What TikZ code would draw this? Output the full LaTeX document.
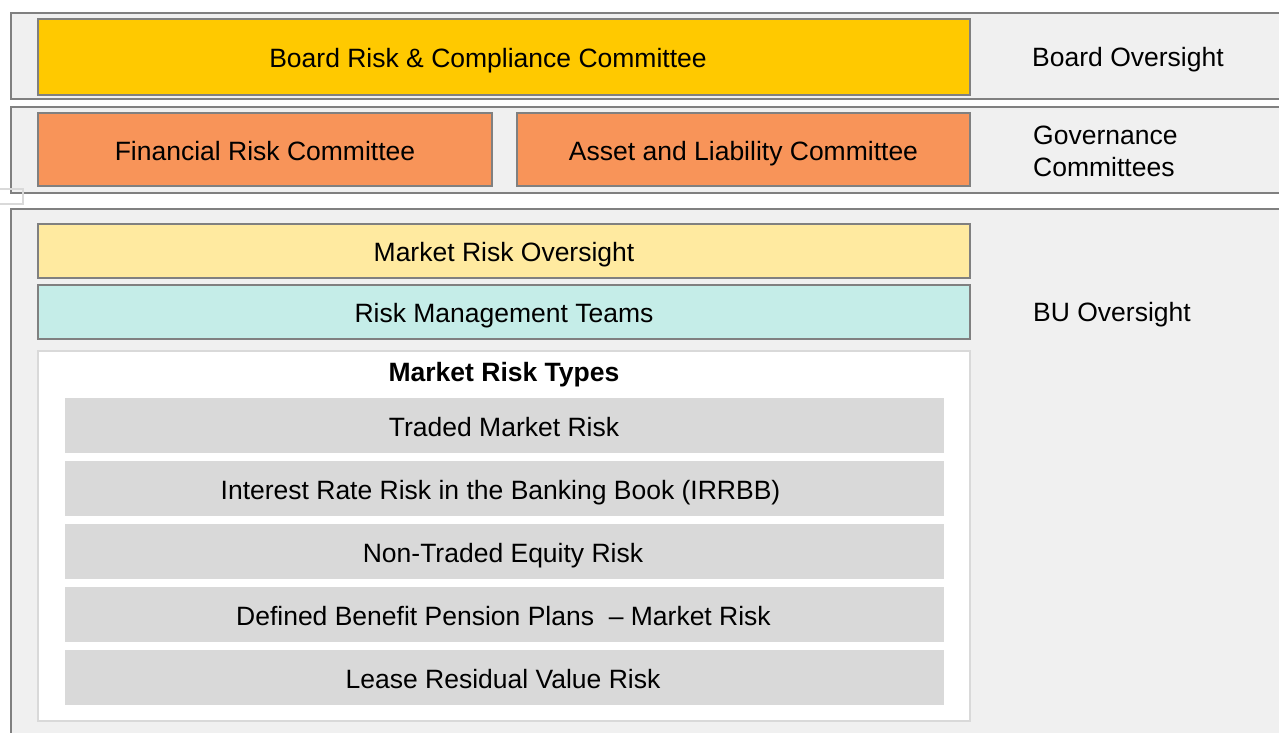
\documentclass[tikz,border=0pt]{standalone}
\usepackage{fontspec}
\setmainfont{Liberation Sans}
\definecolor{bandfill}{HTML}{F0F0F0}
\definecolor{bandline}{HTML}{808080}
\definecolor{boardfill}{HTML}{FFC900}
\definecolor{govfill}{HTML}{F89459}
\definecolor{mrofill}{HTML}{FFEAA0}
\definecolor{rmtfill}{HTML}{C5EDE8}
\definecolor{itemfill}{HTML}{D9D9D9}
\definecolor{lightline}{HTML}{D9D9D9}
\begin{document}
\begin{tikzpicture}[x=1pt,y=-1pt,
  txt/.style={font=\fontsize{26.5}{32}\selectfont,text height=21.5pt,text depth=0pt},
  band/.style={draw=bandline,fill=bandfill,line width=2pt},
  box/.style={txt,draw=bandline,line width=2pt,inner sep=0pt,align=center},
  item/.style={fill=itemfill,inner sep=0pt,minimum width=879pt,minimum height=55pt},
  itemtext/.style={txt,inner sep=0pt},
  side/.style={anchor=west,inner sep=0pt,align=left,font=\fontsize{26.5}{32}\selectfont}]
\useasboundingbox (0,0) rectangle (1279,733);
\fill[white] (0,0) rectangle (1279,733);
% bands
\path[band] (11,13) rectangle (1295,99);
\path[band] (11,107) rectangle (1295,193);
\path[band] (11,209) rectangle (1295,750);
\draw[lightline,line width=1.5pt] (-5,189) rectangle (23,204);
% boxes
\node[box,fill=boardfill,minimum width=932pt,minimum height=76pt] (board) at (504,57) {};
\node[itemtext] (boardt) at (488,57) {Board Risk \& Compliance Committee};
\node[box,fill=govfill,minimum width=454pt,minimum height=73pt] (frc) at (265,149.5) {Financial Risk Committee};
\node[box,fill=govfill,minimum width=453pt,minimum height=73pt] (alc) at (743.5,149.5) {Asset and Liability Committee};
\node[box,fill=mrofill,minimum width=932pt,minimum height=54pt] (mro) at (504,251) {Market Risk Oversight};
\node[box,fill=rmtfill,minimum width=932pt,minimum height=54pt] (rmt) at (504,312) {Risk Management Teams};
\node[draw=lightline,fill=white,line width=2pt,inner sep=0pt,minimum width=932pt,minimum height=370pt] (types) at (504,536) {};
\node[font=\fontsize{26.5}{32}\selectfont\bfseries,inner sep=0pt,text height=19pt,text depth=0pt] (typest) at (504,372) {Market Risk Types};
\node[item] (i1) at (504.5,425.5) {};
\node[item] (i2) at (504.5,488.5) {};
\node[item] (i3) at (504.5,551.5) {};
\node[item] (i4) at (504.5,614.5) {};
\node[item] (i5) at (504.5,677.5) {};
\node[itemtext] (t1) at (504,425.5) {Traded Market Risk};
\node[itemtext] (t2) at (500.5,488.5) {Interest Rate Risk in the Banking Book (IRRBB)};
\node[itemtext] (t3) at (503,551.5) {Non-Traded Equity Risk};
\node[itemtext] (t4) at (503.5,614.5) {Defined Benefit Pension Plans \ – Market Risk};
\node[itemtext] (t5) at (503,677.5) {Lease Residual Value Risk};
% side labels
\node[side,text height=19pt,text depth=0pt] (l1) at (1032,57.5) {Board Oversight};
\node[side] (l2) at (1033,151) {Governance\\Committees};
\node[side,text height=19pt,text depth=0pt] (l3) at (1033,311.5) {BU Oversight};
\end{tikzpicture}
\end{document}
